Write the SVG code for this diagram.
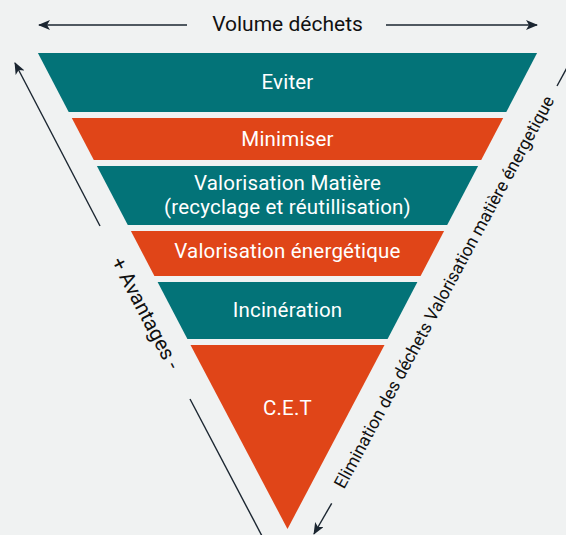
<svg xmlns="http://www.w3.org/2000/svg" width="566" height="535" viewBox="0 0 566 535">
<defs>
<marker id="ah" viewBox="0 0 12 10" refX="11" refY="5" markerWidth="12" markerHeight="10" markerUnits="userSpaceOnUse" orient="auto">
<path d="M0,0 L12,5 L0,10 L3,5 Z" fill="#1b2631"/>
</marker>
<style>
.teal{fill:#037378}
.orange{fill:#e04518}
.lbl{font-family:Roboto,"Liberation Sans",sans-serif;font-size:20.5px;letter-spacing:0.2px;fill:#ffffff;text-anchor:middle}
.side{font-family:Roboto,"Liberation Sans",sans-serif;font-size:19.5px;fill:#111111;text-anchor:middle}
.axis{stroke:#1b2631;stroke-width:1.4;fill:none}
</style>
</defs>
<rect width="566" height="535" fill="#f0f2f2"/>
<g id="connectors">
<line class="axis" x1="187" y1="25" x2="39" y2="25" marker-end="url(#ah)"/>
<line class="axis" x1="386" y1="25" x2="537" y2="25" marker-end="url(#ah)"/>
<line class="axis" x1="100" y1="226" x2="15" y2="63" marker-end="url(#ah)"/>
<line class="axis" x1="190" y1="399" x2="262" y2="536"/>
<line class="axis" x1="331.7" y1="503.3" x2="314" y2="534" marker-end="url(#ah)"/>
<line class="axis" x1="557" y1="86" x2="576" y2="51"/>
</g>
<g id="title">
<text class="side" x="287.5" y="31" style="font-size:21px">Volume déchets</text>
</g>
<g id="avantages">
<text class="side" transform="translate(146,313) rotate(62.2)" dy="0.35em" style="font-size:20.5px">+ Avantages -</text>
</g>
<g id="elimination">
<text class="side" transform="translate(444,292) rotate(-61.6)" dy="0.35em" style="font-size:17.5px">Elimination des déchets Valorisation matière énergetique</text>
</g>
<g id="eviter">
<polygon class="teal" points="37.9,53 537.1,53 506.3,112 68.7,112"/>
<text class="lbl" x="287.5" y="89">Eviter</text>
</g>
<g id="minimiser">
<polygon class="orange" points="71.8,118 503.2,118 481.2,160 93.8,160"/>
<text class="lbl" x="287.5" y="146">Minimiser</text>
</g>
<g id="valorisation-matiere">
<polygon class="teal" points="96.9,166 478.1,166 447.2,225 127.8,225"/>
<text class="lbl" x="287.5" y="190">Valorisation Matière</text>
<text class="lbl" x="287.5" y="214">(recyclage et réutillisation)</text>
</g>
<g id="valorisation-energetique">
<polygon class="orange" points="130.9,231 444.1,231 420.6,276 154.4,276"/>
<text class="lbl" x="287.5" y="258">Valorisation énergétique</text>
</g>
<g id="incineration">
<polygon class="teal" points="157.6,282 417.4,282 387.6,339 187.4,339"/>
<text class="lbl" x="287.5" y="317">Incinération</text>
</g>
<g id="cet">
<polygon class="orange" points="190.5,345 384.5,345 287.5,529"/>
<text class="lbl" x="287.5" y="415">C.E.T</text>
</g>
</svg>
